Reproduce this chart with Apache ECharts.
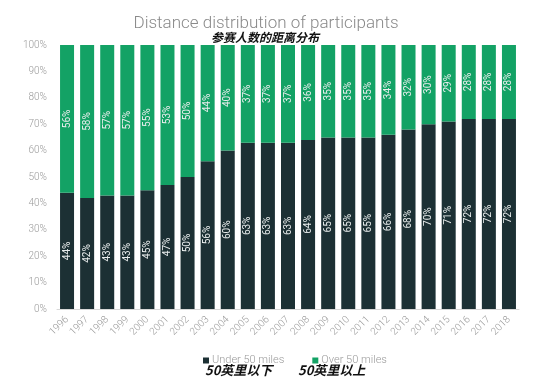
<!DOCTYPE html>
<html>
<head>
<meta charset="utf-8">
<script src="https://cdn.jsdelivr.net/npm/echarts@6/dist/echarts.min.js"></script>
<style>html,body{margin:0;padding:0;background:#fff;}#c{width:550px;height:379px;}</style>
</head>
<body>
<div id="c"></div>
<script>
const years = ['1996','1997','1998','1999','2000','2001','2002','2003','2004','2005','2006','2007','2008','2009','2010','2011','2012','2013','2014','2015','2016','2017','2018'];
const under50 = [44,42,43,43,45,47,50,56,60,63,63,63,64,65,65,65,66,68,70,71,72,72,72];
const over50 = [56,58,57,57,55,53,50,44,40,37,37,37,36,35,35,35,34,32,30,29,28,28,28];
const yTicks = ['0%','10%','20%','30%','40%','50%','60%','70%','80%','90%','100%'];

const chart = echarts.init(document.getElementById('c'), null, {renderer: 'canvas'});
const lbl = {
  show: true, position: 'inside', rotate: 90, color: '#e8ecec',
  fontFamily: 'Roboto', fontSize: 10, formatter: p => p.value + '%'
};
chart.setOption({
  animation: false,
  backgroundColor: '#fff',
  title: [
    {text: 'Distance distribution of participants', left: 261, top: 10, textAlign: 'center',
     textStyle: {fontFamily: 'Roboto', fontWeight: 300, fontSize: 17, color: '#8a8a8a'}},
    {text: '参赛人数的距离分布', left: 260, top: 26, textAlign: 'center',
     textStyle: {fontFamily: 'Noto Sans CJK SC', fontWeight: 'bold', fontStyle: 'italic', fontSize: 12, color: '#111'}}
  ],
  legend: {
    data: ['Under 50 miles', 'Over 50 miles'], left: 198, top: 350,
    itemWidth: 6, itemHeight: 6, itemGap: 28, icon: 'rect',
    textStyle: {fontFamily: 'Roboto', fontWeight: 300, fontSize: 11, color: '#9a9a9a', padding: [0,0,0,-2]}
  },
  graphic: [
    {type: 'text', left: 205, top: 364, style: {text: '50英里以下', font: 'italic bold 13px "Noto Sans CJK SC"', fill: '#111'}},
    {type: 'text', left: 298, top: 364, style: {text: '50英里以上', font: 'italic bold 13px "Noto Sans CJK SC"', fill: '#111'}}
  ],
  grid: {left: 57, right: 31, top: 45, bottom: 70},
  xAxis: {
    type: 'category', data: years,
    axisLine: {lineStyle: {color: '#d8d8d8'}}, axisTick: {show: false},
    axisLabel: {rotate: 45, interval: 0, fontFamily: 'Roboto', fontWeight: 300, fontSize: 10, color: '#9a9a9a', margin: 9}
  },
  yAxis: {
    type: 'value', min: 0, max: 100, interval: 10,
    splitLine: {show: false}, axisLine: {show: false}, axisTick: {show: false},
    axisLabel: {formatter: v => yTicks[v/10], fontFamily: 'Roboto', fontWeight: 300, fontSize: 10, color: '#9a9a9a', margin: 10}
  },
  series: [
    {name: 'Under 50 miles', type: 'bar', stack: 's', data: under50, barWidth: 14,
     itemStyle: {color: '#1c3034'}, label: lbl},
    {name: 'Over 50 miles', type: 'bar', stack: 's', data: over50, barWidth: 14,
     itemStyle: {color: '#13a265'}, label: lbl}
  ]
});
</script>
</body>
</html>
